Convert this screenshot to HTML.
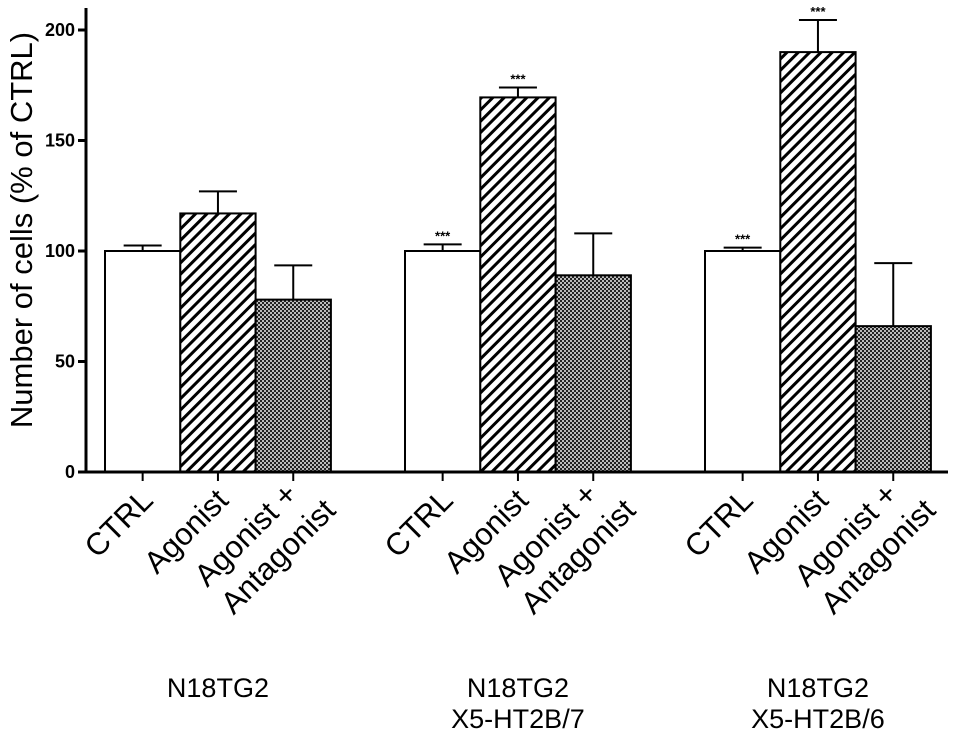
<!DOCTYPE html>
<html><head><meta charset="utf-8"><style>
body{margin:0;background:#fff;}
svg{display:block;font-family:"Liberation Sans",Arial,sans-serif;}
</style></head><body>
<svg id="chart" width="957" height="730">
<defs>
<pattern id="hatch" patternUnits="userSpaceOnUse" width="8" height="8" patternTransform="rotate(45)">
<rect width="8" height="8" fill="#fff"/><rect x="0" y="0" width="3" height="8" fill="#000"/>
</pattern>
<pattern id="check" patternUnits="userSpaceOnUse" width="4" height="4">
<rect width="4" height="4" fill="#bbb"/><rect width="2" height="2" fill="#222"/><rect x="2" y="2" width="2" height="2" fill="#222"/>
</pattern>
</defs>
<g id="plot"></g>
</svg>
<script>
const groups=["N18TG2","N18TG2|X5-HT2B/7","N18TG2|X5-HT2B/6"];
const conditions=["CTRL","Agonist","Agonist +|Antagonist"];
const means=[[100,117,78],[100,169.5,89],[100,190,66]];
const errors=[[2.5,10,15.5],[3,4.5,19],[1.5,14.5,28.5]];
const stars=[["","",""],["***","***",""],["***","***",""]];
const yTicks=[0,50,100,150,200];
const fills=["#fff","url(#hatch)","url(#check)"];
const NS="http://www.w3.org/2000/svg";
const g=document.getElementById('plot');
const y0=472,yScale=442/200;
const y=v=>y0-v*yScale;
const barW=75.3,groupX=[105,405,705];
const bx=(gi,ci)=>groupX[gi]+ci*barW;
function el(t,a,p){const e=document.createElementNS(NS,t);for(const k in a)e.setAttribute(k,a[k]);(p||g).appendChild(e);return e;}
means.forEach((row,gi)=>row.forEach((v,ci)=>{
 const x=bx(gi,ci),cx=x+barW/2,et=y(v+errors[gi][ci]);
 const ln=el('line',{x1:cx,x2:cx,y1:y(v),y2:et,stroke:'#000','stroke-width':2});
 
 
 const cap=el('line',{x1:cx-19,x2:cx+19,y1:et,y2:et,stroke:'#000','stroke-width':2});
 
 
 const r=el('rect',{x:x,y:y(v),width:barW,height:y0-y(v),fill:fills[ci],stroke:'#000','stroke-width':2});
 
 
 if(stars[gi][ci]){const s=el('text',{x:cx,y:et-4,'text-anchor':'middle','font-size':13,'font-weight':'bold'});s.textContent=stars[gi][ci];
 
 }
 el('line',{x1:cx,x2:cx,y1:y0,y2:y0+9,stroke:'#000','stroke-width':2});
 const lines=conditions[ci].split('|');
 lines.forEach((t,li)=>{
  let tx,ty;
  if(lines.length===1){tx=cx+12;ty=y0+30;}
  else if(li===0){tx=cx+6;ty=y0+24;}
  else {tx=cx+44;ty=y0+40;}
  const tt=el('text',{x:tx,y:ty,'text-anchor':'end','font-size':31,transform:`rotate(-45 ${tx} ${ty})`});
  tt.textContent=t;
  
  
 });
}));
const ya=el('line',{x1:86,x2:86,y1:8,y2:473,stroke:'#000','stroke-width':3});


const xa=el('line',{x1:85,x2:948,y1:472,y2:472,stroke:'#000','stroke-width':3});


yTicks.forEach(v=>{
 el('line',{x1:78,x2:86,y1:y(v),y2:y(v),stroke:'#000','stroke-width':3});
 const t=el('text',{x:75,y:y(v)+6,'text-anchor':'end','font-size':18,'font-weight':'bold'});t.textContent=v;
 
 
});
const yt=el('text',{x:0,y:0,'font-size':31,'text-anchor':'middle',transform:'translate(32,230) rotate(-90)'});
yt.textContent='Number of cells (% of CTRL)';


groups.forEach((gname,gi)=>{
 const cx=groupX[gi]+barW*1.5;
 gname.split('|').forEach((t,li)=>{
  const tt=el('text',{x:cx,y:697+li*31,'text-anchor':'middle','font-size':27});tt.textContent=t;
  
  
 });
});
</script>
</body></html>
